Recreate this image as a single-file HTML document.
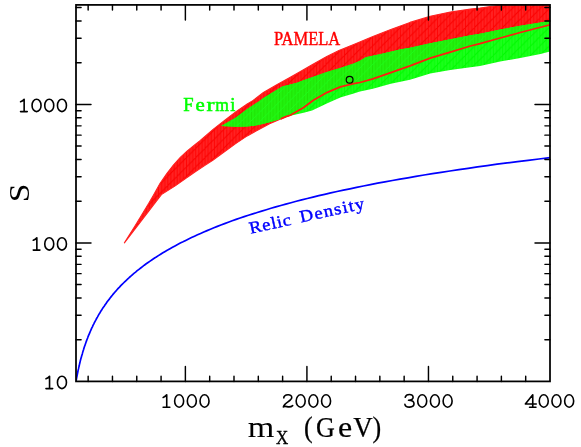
<!DOCTYPE html>
<html><head><meta charset="utf-8"><title>chart</title>
<style>html,body{margin:0;padding:0;background:#fff;}body{width:581px;height:447px;overflow:hidden;font-family:"Liberation Sans",sans-serif;}svg{display:block;will-change:transform}</style>
</head><body>
<svg width="581" height="447" viewBox="0 0 581 447">
<rect width="100%" height="100%" fill="#fff"/>
<defs>
<clipPath id="c"><rect x="76.0" y="4.9" width="474.0" height="376.5"/></clipPath>
<clipPath id="cr"><polygon points="124.4,242.8 135.1,225.8 141.8,214.8 148.6,203.6 153.4,195.2 160.1,183.2 166.8,173.6 173.6,164.8 180.3,157.4 187.0,151.1 193.7,145.8 200.0,140.7 213.4,129.1 226.8,118.8 236.0,111.6 247.2,104.0 252.8,100.6 263.4,92.5 276.8,84.7 290.3,77.3 300.0,71.8 313.4,64.0 326.8,56.6 338.9,50.6 355.0,43.9 372.9,36.4 390.8,29.6 410.0,22.4 430.2,16.3 450.3,12.1 470.5,9.1 480.0,8.1 492.0,6.2 520.0,3.1 552.0,0.6 552.0,24.4 540.5,27.3 520.3,32.5 500.2,38.0 480.0,43.6 470.5,46.0 450.3,52.1 430.2,58.1 410.0,65.9 390.8,72.6 372.9,78.9 360.0,82.5 353.7,83.6 340.3,86.9 326.8,92.6 313.4,100.3 303.7,107.5 290.3,115.2 286.0,116.6 280.7,118.9 269.6,123.8 258.4,129.7 247.2,135.9 236.0,143.4 226.8,150.0 212.8,160.3 205.4,165.1 195.3,171.8 185.2,178.8 175.2,185.9 161.4,194.6 124.4,242.8"/></clipPath>
<pattern id="hr" width="9.3" height="9.3" patternUnits="userSpaceOnUse"><rect width="9.3" height="9.3" fill="#ff2222"/><path d="M0.5 0v9.3M3.6 0v9.3M6.7 0v9.3" stroke="#ff0303" stroke-width="0.9"/><path d="M-1 10.3L10.3 -1" stroke="#fb0000" stroke-width="1.0"/></pattern>
<pattern id="hg" width="9.3" height="9.3" patternUnits="userSpaceOnUse"><rect width="9.3" height="9.3" fill="#1cff1c"/><path d="M0.5 0v9.3M3.6 0v9.3M6.7 0v9.3" stroke="#03ff03" stroke-width="0.9"/><path d="M-1 10.3L10.3 -1" stroke="#00f800" stroke-width="1.0"/></pattern>
<pattern id="hg2" width="9.3" height="9.3" patternUnits="userSpaceOnUse"><rect width="9.3" height="9.3" fill="#22f30e"/><path d="M0.5 0v9.3M3.6 0v9.3M6.7 0v9.3" stroke="#1ee204" stroke-width="0.9"/><path d="M-1 10.3L10.3 -1" stroke="#1cff1c" stroke-width="0.8"/></pattern>
</defs>
<g clip-path="url(#c)">
<polygon points="124.4,242.8 135.1,225.8 141.8,214.8 148.6,203.6 153.4,195.2 160.1,183.2 166.8,173.6 173.6,164.8 180.3,157.4 187.0,151.1 193.7,145.8 200.0,140.7 213.4,129.1 226.8,118.8 236.0,111.6 247.2,104.0 252.8,100.6 263.4,92.5 276.8,84.7 290.3,77.3 300.0,71.8 313.4,64.0 326.8,56.6 338.9,50.6 355.0,43.9 372.9,36.4 390.8,29.6 410.0,22.4 430.2,16.3 450.3,12.1 470.5,9.1 480.0,8.1 492.0,6.2 520.0,3.1 552.0,0.6 552.0,24.4 540.5,27.3 520.3,32.5 500.2,38.0 480.0,43.6 470.5,46.0 450.3,52.1 430.2,58.1 410.0,65.9 390.8,72.6 372.9,78.9 360.0,82.5 353.7,83.6 340.3,86.9 326.8,92.6 313.4,100.3 303.7,107.5 290.3,115.2 286.0,116.6 280.7,118.9 269.6,123.8 258.4,129.7 247.2,135.9 236.0,143.4 226.8,150.0 212.8,160.3 205.4,165.1 195.3,171.8 185.2,178.8 175.2,185.9 161.4,194.6 124.4,242.8" fill="url(#hr)" stroke="#ff2222" stroke-width="1.1" stroke-linejoin="round"/>
<polygon points="221.2,126.0 236.0,117.4 247.2,109.0 258.4,101.7 263.4,97.9 282.2,86.4 297.0,82.7 300.0,81.5 313.4,76.8 326.8,72.1 340.3,68.0 353.7,63.4 360.0,60.7 365.7,57.3 381.9,53.7 399.8,49.6 410.0,47.8 430.2,43.3 450.3,39.3 470.5,35.3 480.0,33.8 500.2,29.4 520.3,25.8 540.5,22.4 552.0,20.5 552.0,51.0 540.5,53.9 520.3,57.9 500.2,61.6 480.0,66.0 470.5,67.2 450.3,70.0 430.2,73.6 410.0,79.7 390.8,83.8 372.9,88.8 360.0,91.4 353.7,93.4 340.3,97.4 326.8,103.4 312.1,110.4 303.7,112.7 290.3,115.8 280.7,119.0 269.6,122.3 258.4,125.1 247.2,126.6 236.0,126.7 221.2,126.0" fill="url(#hg)"/>
<g clip-path="url(#cr)"><polygon points="221.2,126.0 236.0,117.4 247.2,109.0 258.4,101.7 263.4,97.9 282.2,86.4 297.0,82.7 300.0,81.5 313.4,76.8 326.8,72.1 340.3,68.0 353.7,63.4 360.0,60.7 365.7,57.3 381.9,53.7 399.8,49.6 410.0,47.8 430.2,43.3 450.3,39.3 470.5,35.3 480.0,33.8 500.2,29.4 520.3,25.8 540.5,22.4 552.0,20.5 552.0,51.0 540.5,53.9 520.3,57.9 500.2,61.6 480.0,66.0 470.5,67.2 450.3,70.0 430.2,73.6 410.0,79.7 390.8,83.8 372.9,88.8 360.0,91.4 353.7,93.4 340.3,97.4 326.8,103.4 312.1,110.4 303.7,112.7 290.3,115.8 280.7,119.0 269.6,122.3 258.4,125.1 247.2,126.6 236.0,126.7 221.2,126.0" fill="url(#hg2)"/></g>
<polyline points="280.7,118.9 286.0,116.6 290.3,115.2 303.7,107.5 313.4,100.3 326.8,92.6 340.3,86.9 353.7,83.6 360.0,82.5 372.9,78.9 390.8,72.6 410.0,65.9 430.2,58.1 450.3,52.1 470.5,46.0 480.0,43.6 500.2,38.0 520.3,32.5 540.5,27.3 552.0,24.4" fill="none" stroke="#ff1c10" stroke-width="1.7"/>
<polyline points="76.0,381.4 76.3,379.8 76.6,378.2 76.9,376.6 77.2,375.1 77.5,373.5 77.8,372.0 78.1,370.4 78.5,368.9 78.8,367.4 79.2,365.8 79.5,364.3 79.9,362.8 80.2,361.3 80.6,359.8 81.0,358.3 81.4,356.9 81.8,355.4 82.3,353.9 82.7,352.4 83.1,351.0 83.6,349.5 84.0,348.1 84.5,346.6 85.0,345.2 85.5,343.8 86.0,342.3 86.5,340.9 87.0,339.5 87.6,338.1 88.1,336.6 88.7,335.2 89.3,333.8 89.9,332.4 90.5,331.0 91.1,329.6 91.7,328.2 92.4,326.8 93.0,325.4 93.7,324.1 94.4,322.7 95.1,321.3 95.9,319.9 96.6,318.5 97.4,317.1 98.1,315.8 98.9,314.4 99.8,313.0 100.6,311.6 101.5,310.3 102.3,308.9 103.2,307.5 104.2,306.2 105.1,304.8 106.1,303.4 107.0,302.1 108.0,300.7 109.1,299.4 110.1,298.0 111.2,296.6 112.3,295.3 113.4,293.9 114.6,292.5 115.8,291.2 117.0,289.8 118.2,288.4 119.5,287.1 120.8,285.7 122.1,284.4 123.5,283.0 124.9,281.6 126.3,280.3 127.8,278.9 129.3,277.5 130.8,276.2 132.3,274.8 133.9,273.4 135.6,272.1 137.2,270.7 139.0,269.3 140.7,268.0 142.5,266.6 144.3,265.2 146.2,263.8 148.1,262.5 150.1,261.1 152.1,259.7 154.2,258.3 156.3,257.0 158.4,255.6 160.6,254.2 162.9,252.8 165.2,251.4 167.6,250.1 170.0,248.7 172.5,247.3 175.0,245.9 177.6,244.5 180.3,243.1 183.0,241.8 185.7,240.4 188.6,239.0 191.5,237.6 194.5,236.2 197.5,234.8 200.6,233.4 203.8,232.0 207.1,230.6 210.4,229.2 213.9,227.8 217.4,226.4 220.9,225.0 224.6,223.6 228.3,222.2 232.2,220.8 236.1,219.4 240.1,218.0 244.2,216.6 248.4,215.2 252.8,213.9 257.2,212.5 261.7,211.1 266.3,209.7 271.0,208.3 275.8,206.9 280.8,205.5 285.8,204.1 291.0,202.7 296.3,201.3 301.7,199.9 307.3,198.5 313.0,197.1 318.8,195.7 324.7,194.3 330.8,192.9 337.0,191.5 343.4,190.1 349.9,188.8 356.6,187.4 363.4,186.0 370.4,184.6 377.6,183.2 384.9,181.9 392.4,180.5 400.0,179.1 407.9,177.8 415.9,176.4 424.1,175.0 432.5,173.7 441.1,172.3 449.9,171.0 458.9,169.6 468.1,168.3 477.5,166.9 487.2,165.6 497.1,164.2 507.2,162.9 517.5,161.6 528.1,160.3 538.9,159.0 550.0,157.6" fill="none" stroke="#0000ff" stroke-width="1.7" stroke-linejoin="round"/>
</g>
<circle cx="349.6" cy="79.8" r="3.4" fill="none" stroke="#000" stroke-width="1.2"/>
<g stroke="#000" stroke-width="1.75" stroke-linecap="round" fill="none">
<rect x="76.0" y="4.9" width="474.0" height="376.5"/>
<path stroke-width="1.45" d="M88.15 381.4 v-5.1 M88.15 4.9 v5.1"/>
<path stroke-width="1.45" d="M112.46 381.4 v-5.1 M112.46 4.9 v5.1"/>
<path stroke-width="1.45" d="M136.77 381.4 v-5.1 M136.77 4.9 v5.1"/>
<path stroke-width="1.45" d="M161.08 381.4 v-5.1 M161.08 4.9 v5.1"/>
<path stroke-width="1.45" d="M185.38 381.4 v-15.0 M185.38 4.9 v15.0"/>
<path stroke-width="1.45" d="M209.69 381.4 v-5.1 M209.69 4.9 v5.1"/>
<path stroke-width="1.45" d="M234.00 381.4 v-5.1 M234.00 4.9 v5.1"/>
<path stroke-width="1.45" d="M258.31 381.4 v-5.1 M258.31 4.9 v5.1"/>
<path stroke-width="1.45" d="M282.62 381.4 v-5.1 M282.62 4.9 v5.1"/>
<path stroke-width="1.45" d="M306.92 381.4 v-15.0 M306.92 4.9 v15.0"/>
<path stroke-width="1.45" d="M331.23 381.4 v-5.1 M331.23 4.9 v5.1"/>
<path stroke-width="1.45" d="M355.54 381.4 v-5.1 M355.54 4.9 v5.1"/>
<path stroke-width="1.45" d="M379.85 381.4 v-5.1 M379.85 4.9 v5.1"/>
<path stroke-width="1.45" d="M404.15 381.4 v-5.1 M404.15 4.9 v5.1"/>
<path stroke-width="1.45" d="M428.46 381.4 v-15.0 M428.46 4.9 v15.0"/>
<path stroke-width="1.45" d="M452.77 381.4 v-5.1 M452.77 4.9 v5.1"/>
<path stroke-width="1.45" d="M477.08 381.4 v-5.1 M477.08 4.9 v5.1"/>
<path stroke-width="1.45" d="M501.38 381.4 v-5.1 M501.38 4.9 v5.1"/>
<path stroke-width="1.45" d="M525.69 381.4 v-5.1 M525.69 4.9 v5.1"/>
<path stroke-width="1.45" d="M76.0 339.71 h5.1 M550.0 339.71 h-5.1"/>
<path stroke-width="1.45" d="M76.0 315.32 h5.1 M550.0 315.32 h-5.1"/>
<path stroke-width="1.45" d="M76.0 298.01 h5.1 M550.0 298.01 h-5.1"/>
<path stroke-width="1.45" d="M76.0 284.59 h5.1 M550.0 284.59 h-5.1"/>
<path stroke-width="1.45" d="M76.0 273.63 h5.1 M550.0 273.63 h-5.1"/>
<path stroke-width="1.45" d="M76.0 264.35 h5.1 M550.0 264.35 h-5.1"/>
<path stroke-width="1.45" d="M76.0 256.32 h5.1 M550.0 256.32 h-5.1"/>
<path stroke-width="1.45" d="M76.0 249.24 h5.1 M550.0 249.24 h-5.1"/>
<path stroke-width="1.45" d="M76.0 242.90 h15.0 M550.0 242.90 h-15.0"/>
<path stroke-width="1.45" d="M76.0 201.21 h5.1 M550.0 201.21 h-5.1"/>
<path stroke-width="1.45" d="M76.0 176.82 h5.1 M550.0 176.82 h-5.1"/>
<path stroke-width="1.45" d="M76.0 159.51 h5.1 M550.0 159.51 h-5.1"/>
<path stroke-width="1.45" d="M76.0 146.09 h5.1 M550.0 146.09 h-5.1"/>
<path stroke-width="1.45" d="M76.0 135.13 h5.1 M550.0 135.13 h-5.1"/>
<path stroke-width="1.45" d="M76.0 125.85 h5.1 M550.0 125.85 h-5.1"/>
<path stroke-width="1.45" d="M76.0 117.82 h5.1 M550.0 117.82 h-5.1"/>
<path stroke-width="1.45" d="M76.0 110.74 h5.1 M550.0 110.74 h-5.1"/>
<path stroke-width="1.45" d="M76.0 104.40 h15.0 M550.0 104.40 h-15.0"/>
<path stroke-width="1.45" d="M76.0 62.71 h5.1 M550.0 62.71 h-5.1"/>
<path stroke-width="1.45" d="M76.0 38.32 h5.1 M550.0 38.32 h-5.1"/>
<path stroke-width="1.45" d="M76.0 21.01 h5.1 M550.0 21.01 h-5.1"/>
<path stroke-width="1.45" d="M76.0 7.59 h5.1 M550.0 7.59 h-5.1"/>
</g>
<g fill="none" stroke="#000" stroke-width="1.6" stroke-linecap="round" stroke-linejoin="round">
<path d="M163.13 407.20 H169.83 M166.73 407.20 V394.80 Q165.53 396.60 163.13 397.40"/><ellipse cx="179.13" cy="401.00" rx="4.50" ry="6.20"/><ellipse cx="191.83" cy="401.00" rx="4.50" ry="6.20"/><ellipse cx="204.53" cy="401.00" rx="4.50" ry="6.20"/>
<path d="M283.77 397.90 C283.97 394.20 292.07 393.40 291.77 397.60 C291.67 401.20 284.37 402.60 283.37 406.90 C285.57 404.80 288.97 409.00 292.67 405.60"/><ellipse cx="300.67" cy="401.00" rx="4.50" ry="6.20"/><ellipse cx="313.37" cy="401.00" rx="4.50" ry="6.20"/><ellipse cx="326.07" cy="401.00" rx="4.50" ry="6.20"/>
<path d="M405.21 397.20 C406.11 393.60 413.21 393.40 413.11 397.30 C413.11 399.60 410.11 400.20 408.51 400.20 C411.01 400.20 414.01 401.00 414.01 403.80 C414.01 408.10 405.51 408.10 404.91 404.40"/><ellipse cx="422.21" cy="401.00" rx="4.50" ry="6.20"/><ellipse cx="434.91" cy="401.00" rx="4.50" ry="6.20"/><ellipse cx="447.61" cy="401.00" rx="4.50" ry="6.20"/>
<path d="M532.75 407.20 V394.80 L525.35 404.00 H536.25 M529.55 407.20 H535.95"/><ellipse cx="543.75" cy="401.00" rx="4.50" ry="6.20"/><ellipse cx="556.45" cy="401.00" rx="4.50" ry="6.20"/><ellipse cx="569.15" cy="401.00" rx="4.50" ry="6.20"/>
<path d="M45.95 388.60 H52.65 M49.55 388.60 V376.20 Q48.35 378.00 45.95 378.80"/><ellipse cx="61.95" cy="382.40" rx="4.50" ry="6.20"/>
<path d="M33.25 250.10 H39.95 M36.85 250.10 V237.70 Q35.65 239.50 33.25 240.30"/><ellipse cx="49.25" cy="243.90" rx="4.50" ry="6.20"/><ellipse cx="61.95" cy="243.90" rx="4.50" ry="6.20"/>
<path d="M20.55 111.60 H27.25 M24.15 111.60 V99.20 Q22.95 101.00 20.55 101.80"/><ellipse cx="36.55" cy="105.40" rx="4.50" ry="6.20"/><ellipse cx="49.25" cy="105.40" rx="4.50" ry="6.20"/><ellipse cx="61.95" cy="105.40" rx="4.50" ry="6.20"/>
</g>
<g font-family="Liberation Serif, serif" stroke-linejoin="round">
<text x="273.9" y="45.4" font-size="18.4" fill="#ff0000" stroke="#ff0000" stroke-width="0.4" textLength="66.4" lengthAdjust="spacingAndGlyphs">PAMELA</text>
<g font-size="18.5" fill="#00ff00" stroke="#00ff00" stroke-width="0.5"><text transform="translate(183.3 110.9) scale(1.0 1)">F</text><text transform="translate(195.5 110.9) scale(1.13 1)">e</text><text transform="translate(206.4 110.9) scale(1.3 1)">r</text><text transform="translate(215.3 110.9) scale(0.95 1)">m</text><text transform="translate(230.3 110.9) scale(1.0 1)">i</text></g>
<g transform="translate(250.5 233.8) rotate(-12.5) scale(1.1 1)" font-size="17" fill="#0000ff" stroke="#0000ff" stroke-width="0.4"><text x="0" y="0" textLength="38.45" lengthAdjust="spacing">Relic</text><text x="47.1" y="0" textLength="59.6" lengthAdjust="spacing">Density</text></g>
<text x="0" y="0" font-size="31" fill="#000" text-anchor="middle" transform="translate(29.1 193.0) rotate(-90) scale(1.085 0.96)">S</text>
<g fill="#000" stroke="#000"><text font-size="28" stroke-width="0" transform="translate(247.8 436.8) scale(1.22 1.05)">m</text><text font-size="17" stroke-width="0.3" transform="translate(276.0 444.0) scale(1.0 1.12)">X</text><text font-size="29" stroke-width="0.25" transform="translate(304.0 436.6) scale(0.9 1)">(</text><text font-size="29" stroke-width="0.25" transform="translate(316.0 436.6) scale(0.9 1)">G</text><text font-size="29" stroke-width="0.25" transform="translate(338.0 436.6) scale(1.1 1)">e</text><text font-size="29" stroke-width="0.25" transform="translate(353.3 436.6) scale(0.93 1)">V</text><text font-size="29" stroke-width="0.25" transform="translate(372.6 436.6) scale(0.9 1)">)</text></g>
</g>
</svg>
</body></html>
